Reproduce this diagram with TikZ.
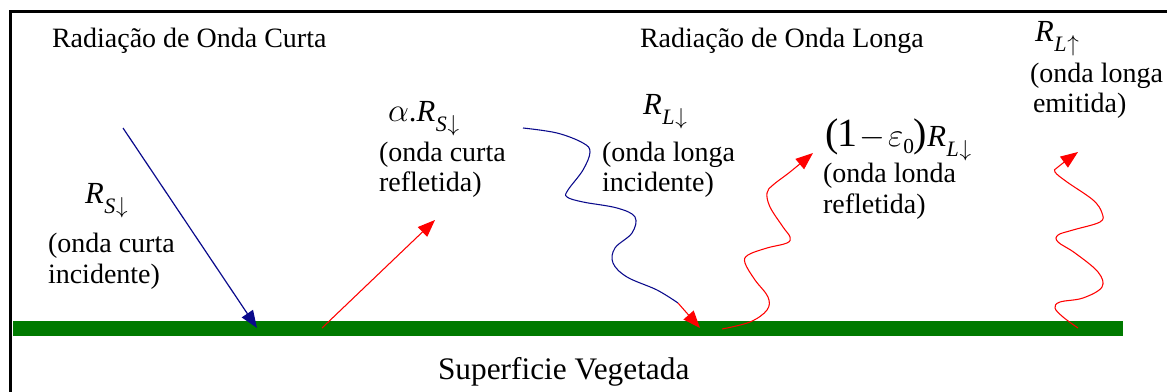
\documentclass[tikz,border=0pt]{standalone}
\usepackage{fontspec}
\setmainfont{Liberation Serif}
\usetikzlibrary{arrows.meta}
\definecolor{navyb}{RGB}{10,10,140}
\definecolor{vgreen}{RGB}{0,122,0}
\definecolor{rred}{RGB}{255,0,0}
\newcommand{\txt}{\fontsize{21}{25}\selectfont}
\newcommand{\Rsym}[2]{{\fontsize{23}{23}\selectfont\textit{R}}\kern0.5pt\raisebox{-7.5pt}{\fontsize{16.5}{16.5}\selectfont\textit{#1}\kern0.5pt$#2$}}
\begin{document}
\begin{tikzpicture}[x=0.75pt,y=-0.75pt,
  lbl/.style={inner sep=0pt, outer sep=0pt, anchor=base west, font=\txt},
  tip/.style={-{Triangle[length=13pt,width=10pt]}},
  swline/.style={navyb, line width=0.9pt},
  rline/.style={rred, line width=0.8pt}]
\useasboundingbox (0,0) rectangle (1167,392);
\fill[white] (0,0) rectangle (1167,392);
\draw[line width=2.25pt] (1167,11.5) -- (10,11.5) -- (10,392);
% ground
\fill[vgreen] (13,321) rectangle (1123,336);
% titles
\node[lbl] (tsw) at (52,48) {Radiação de Onda Curta};
\node[lbl] (tlw) at (640,48) {Radiação de Onda Longa};
\node[lbl, font=\fontsize{23.5}{28}\selectfont] (sup) at (438,379) {Superficie Vegetada};
% labels
\node[lbl] (rsd) at (85,204) {\Rsym{S}{\downarrow}};
\node[lbl] (rsd1) at (48,252) {(onda curta};
\node[lbl] (rsd2) at (48,283) {incidente)};
\node[lbl] (ars) at (388,122) {{\fontsize{23}{23}\selectfont$\alpha$.}\Rsym{S}{\downarrow}};
\node[lbl] (ars1) at (379,162) {(onda curta};
\node[lbl] (ars2) at (379,192) {refletida)};
\node[lbl] (rld) at (643,115) {\Rsym{L}{\downarrow}};
\node[lbl] (rld1) at (602,162) {(onda longa};
\node[lbl] (rld2) at (602,191) {incidente)};
\node[lbl] (erl) at (825,147) {{\fontsize{30}{30}\selectfont(\kern-1pt1\kern2pt$-$\kern2pt$\varepsilon$}\raisebox{-5pt}{\fontsize{16}{16}\selectfont 0}{\fontsize{30}{30}\selectfont)}\Rsym{L}{\downarrow}};
\node[lbl] (erl1) at (823,183) {(onda londa};
\node[lbl] (erl2) at (823,214) {refletida)};
\node[lbl] (rlu) at (1035,42) {\Rsym{L}{\uparrow}};
\node[lbl] (rlu1) at (1030,83) {(onda longa};
\node[lbl] (rlu2) at (1033,113) {emitida)};
% short wave incident
\coordinate (b1s) at (123,128);
\coordinate (b1e) at (257,328);
\draw[swline, tip] (b1s) -- (b1e);
% short wave reflected
\coordinate (r1s) at (322,328);
\coordinate (r1e) at (435,220);
\draw[rline, tip] (r1s) -- (r1e);
% long wave incident
\coordinate (b2e) at (678,303);
\coordinate (b2t) at (700,328);
\draw[swline, line width=0.8pt] plot[smooth, tension=0.6] coordinates {(523,128) (557,133) (583,143) (590,152) (583,170) (568,190) (567,197) (583,202) (617,208) (635,217) (632,233) (615,248) (613,263) (627,277) (657,290) (678,303)};
\draw[rline, tip] (b2e) -- (b2t);
% long wave reflected
\draw[rline, tip] plot[smooth, tension=0.6] coordinates {(722,329) (750,322) (767,310) (768,297) (755,280) (745,263) (748,255) (767,248) (787,243) (790,237) (783,227) (770,207) (767,193) (773,185) (790,172) (813,153)};
% long wave emitted
\draw[rline, tip] plot[smooth, tension=0.6] coordinates {(1078,328) (1063,317) (1055,308) (1060,302) (1083,298) (1102,287) (1098,272) (1075,253) (1058,242) (1058,235) (1073,230) (1100,222) (1102,213) (1093,200) (1067,182) (1055,172) (1058,167) (1078,152)};
\end{tikzpicture}
\end{document}
